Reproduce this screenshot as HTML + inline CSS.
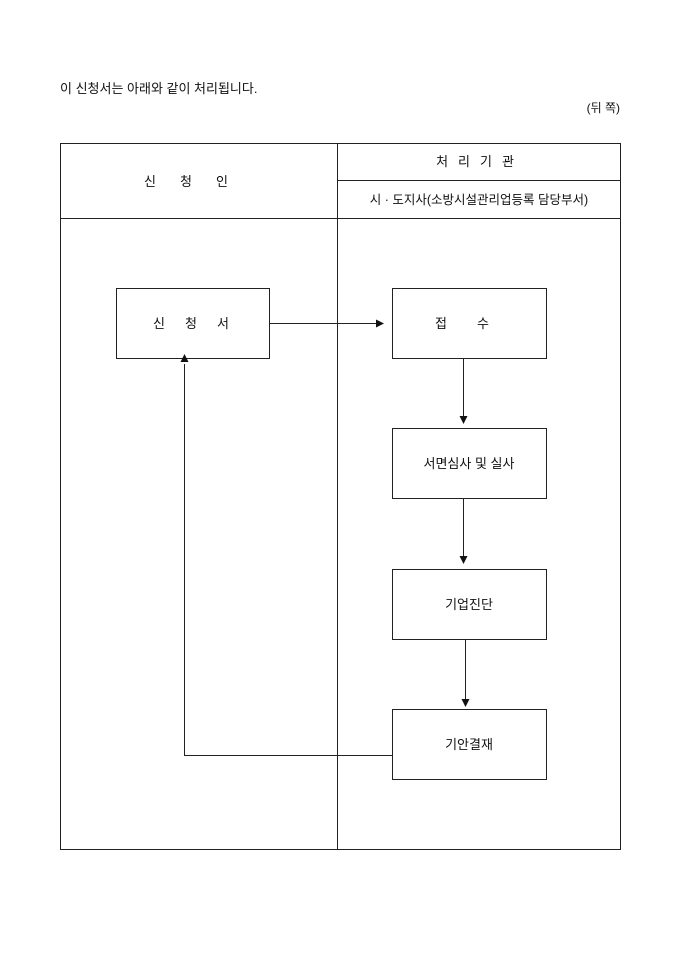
<!DOCTYPE html>
<html><head><meta charset="utf-8"><style>
body{margin:0;background:#fff;}
svg text{font-family:"Liberation Sans","Noto Sans CJK KR","NanumGothic",sans-serif;fill:#111;}
</style></head><body>
<svg width="680" height="962" viewBox="0 0 680 962" xmlns="http://www.w3.org/2000/svg">
<text x="60" y="93" font-size="13">이 신청서는 아래와 같이 처리됩니다.</text>
<text x="620" y="112" font-size="12" text-anchor="end">(뒤 쪽)</text>
<g stroke="#222" stroke-width="1" fill="none">
<rect x="60.5" y="143.5" width="560" height="706"/>
<line x1="337.5" y1="143" x2="337.5" y2="849"/>
<line x1="60" y1="218.5" x2="620" y2="218.5"/>
<line x1="337" y1="180.5" x2="620" y2="180.5"/>
<rect x="116.5" y="288.5" width="153" height="70"/>
<rect x="392.5" y="288.5" width="154" height="70"/>
<rect x="392.5" y="428.5" width="154" height="70"/>
<rect x="392.5" y="569.5" width="154" height="70"/>
<rect x="392.5" y="709.5" width="154" height="70"/>
<line x1="269" y1="323.5" x2="378" y2="323.5"/>
<line x1="463.5" y1="358" x2="463.5" y2="418"/>
<line x1="463.5" y1="498" x2="463.5" y2="558"/>
<line x1="465.5" y1="639" x2="465.5" y2="701"/>
<polyline points="392,755.5 184.5,755.5 184.5,364"/>
</g>
<g fill="#111">
<polygon points="384,323.5 376,319.5 376,327.5"/>
<polygon points="463.5,424 459.5,416 467.5,416"/>
<polygon points="463.5,564 459.5,556 467.5,556"/>
<polygon points="465.5,707 461.5,699 469.5,699"/>
<polygon points="184.5,354 180.5,362 188.5,362"/>
</g>
<g font-size="13" text-anchor="middle">
<text x="198" y="186" letter-spacing="24">신청인</text>
<text x="480" y="166" letter-spacing="10">처리기관</text>
<text x="479" y="204" font-size="12.5">시 · 도지사(소방시설관리업등록 담당부서)</text>
<text x="201" y="328" letter-spacing="20">신청서</text>
<text x="477" y="328" letter-spacing="30">접수</text>
<text x="469" y="468">서면심사 및 실사</text>
<text x="469" y="609">기업진단</text>
<text x="469" y="749">기안결재</text>
</g>
</svg>
</body></html>
